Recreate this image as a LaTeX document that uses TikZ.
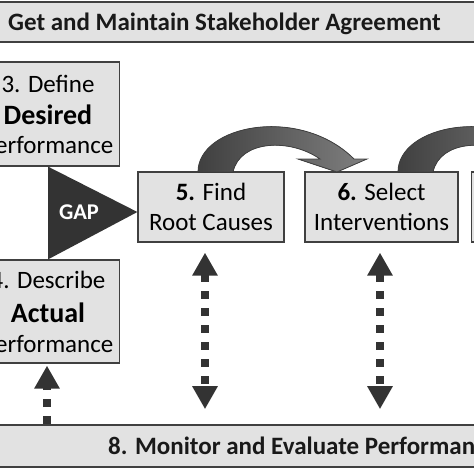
\documentclass[tikz,border=0pt]{standalone}
\usepackage{fontspec}
\setmainfont{Carlito}
\usetikzlibrary{arrows.meta,calc}

\definecolor{boxfill}{HTML}{E2E2E2}
\definecolor{boxline}{HTML}{404040}
\definecolor{darkfill}{HTML}{333333}

\tikzset{
  stepbox/.style={draw=boxline, fill=boxfill, line width=1.2pt, align=center, inner sep=0pt,
    font=\fontsize{25}{30}\selectfont},
  banner/.style={draw=boxline, fill=boxfill, line width=1.6pt, inner sep=0pt,
    minimum width=500pt, minimum height=40pt},
  bannertext/.style={font=\fontsize{25}{30}\selectfont\bfseries, text=black!90, inner sep=0pt},
  dasharrow/.style={draw=darkfill, line width=7.5pt, dash pattern=on 8pt off 9pt,
    arrows={-Triangle[width=24pt,length=23pt]}},
  bentarrow/.style={draw=black!75, line width=0.8pt}
}

\begin{document}
\begin{tikzpicture}[x=1pt,y=-1pt]
  \useasboundingbox (0,0) rectangle (474,474);
  \clip (0,0) rectangle (474,474);

  % banners
  \node[banner] (agree) at (240,22) {};
  \node[bannertext, anchor=base west] (agreetxt) at (8,30) {Get and Maintain Stakeholder Agreement};
  \node[banner, minimum height=42pt] (monitor) at (240,446) {};
  \node[bannertext, anchor=base west] (monitortxt) at (108,454) {8. Monitor and Evaluate Performance};

  % steps
  \node[stepbox, minimum width=143pt, minimum height=104pt] (desired) at (48,114)
    {3. Define\\[2pt]{\fontsize{28}{30}\selectfont\bfseries Desired}\\[-1pt]Performance};
  \node[stepbox, minimum width=143pt, minimum height=103pt] (actual) at (48,311.5)
    {4. Describe\\[4pt]{\fontsize{28}{30}\selectfont\bfseries Actual}\\[0pt]Performance};
  \node[stepbox, minimum width=146pt, minimum height=70pt] (root) at (211,207)
    {\textbf{5.} Find\\Root Causes};
  \node[stepbox, minimum width=153pt, minimum height=70pt] (select) at (381.5,207)
    {\textbf{6.} Select\\Interventions};
  \node[stepbox, minimum width=153pt, minimum height=70pt, anchor=west] (next) at (471,207) {};

  % gap
  \fill[darkfill] (desired.south) -- ([yshift=-5pt]root.west) -- (actual.north) -- cycle;
  \node[text=white, font=\fontsize{22.5}{24}\selectfont\bfseries] (gap) at (79,212) {GAP};

  % bent arrows over the steps
  \foreach \dx in {0,200}{
    \filldraw[bentarrow, left color=black!75, right color=black!50, shift={(\dx,0)}]
      (198,172) .. controls (198,125) and (300,105) .. (354,159)
      -- (367,159) -- (337,172) -- (298,159) -- (320,159)
      .. controls (290,138) and (240,140) .. (233,172) -- cycle;
  }

  % dashed links
  \draw[dasharrow, arrows={Triangle[width=24pt,length=23pt]-Triangle[width=24pt,length=23pt]}]
    ([xshift=-6pt,yshift=-10pt]root.south) -- ([xshift=-6pt,yshift=15pt]root.south |- monitor.north);
  \draw[dasharrow, arrows={Triangle[width=24pt,length=23pt]-Triangle[width=24pt,length=23pt]}]
    ([xshift=-1.5pt,yshift=-10pt]select.south) -- ([xshift=-1.5pt,yshift=15pt]select.south |- monitor.north);
  \draw[dasharrow] ([xshift=-1pt]actual.south |- monitor.north) -- ([xshift=-1pt,yshift=-2pt]actual.south);
\end{tikzpicture}
\end{document}
